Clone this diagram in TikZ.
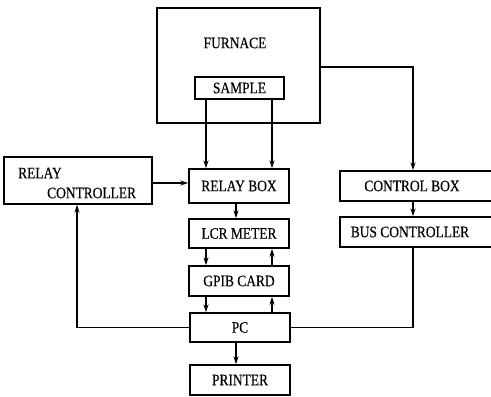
\documentclass[tikz,border=0pt]{standalone}
\usepackage{fontspec}
\newfontfamily\diagfont[FakeStretch=0.84,FakeBold=0.3]{Liberation Serif}
\usetikzlibrary{arrows.meta}
\begin{document}
\begin{tikzpicture}[x=1pt,y=-1pt,
  blk/.style={draw,line width=1.4pt,inner sep=0pt},
  lbl/.style={font=\diagfont\fontsize{16}{18}\selectfont,inner sep=0pt},
  wire/.style={line width=1.3pt},
  arr/.style={wire,-{Stealth[length=8pt,width=5pt]}}]
\useasboundingbox (0,0) rectangle (491,397);
\clip (0,0) rectangle (491,397);
% blocks
\node[blk,minimum width=163pt,minimum height=115pt] (furnace) at (238.5,65.5) {};
\node[lbl] (furnacet) at (235,43) {FURNACE};
\node[blk,minimum width=89pt,minimum height=22pt,lbl] (sample) at (239.5,88) {SAMPLE};
\node[blk,minimum width=148pt,minimum height=47pt] (relayctrl) at (78,180.5) {};
\node[lbl,anchor=west] (relayt1) at (18,173) {RELAY};
\node[lbl,anchor=west] (relayt2) at (47,193) {CONTROLLER};
\node[blk,minimum width=100pt,minimum height=34pt,lbl] (relaybox) at (239,186) {RELAY BOX};
\node[blk,minimum width=100pt,minimum height=29pt,lbl] (lcr) at (239,233.5) {LCR METER};
\node[blk,minimum width=100pt,minimum height=30pt,lbl] (gpib) at (239,281) {GPIB CARD};
\node[blk,minimum width=100pt,minimum height=29pt,lbl] (pc) at (240,327.5) {PC};
\node[blk,minimum width=100pt,minimum height=30pt,lbl] (printer) at (240,380) {PRINTER};
\node[blk,minimum width=160pt,minimum height=30pt] (controlbox) at (420,186) {};
\node[lbl] (controlt) at (412,186) {CONTROL BOX};
\node[blk,minimum width=160pt,minimum height=30pt] (busctrl) at (420,232) {};
\node[lbl] (bust) at (410,232) {BUS CONTROLLER};
% reference columns
\coordinate (xl) at (206,0);
\coordinate (xr) at (272,0);
\coordinate (xm) at (236,0);
\coordinate (xc) at (413,0);
\coordinate (xrc) at (77,0);
\coordinate (yrc) at (0,183);
\coordinate (yf) at (0,67);
% connectors
\draw[arr] (sample.south -| xl) -- (relaybox.north -| xl);
\draw[arr] (sample.south -| xr) -- (relaybox.north -| xr);
\draw[arr] (furnace.east |- yf) -| (controlbox.north -| xc);
\draw[arr] (relayctrl.east |- yrc) -- (relaybox.west |- yrc);
\draw[arr] (relaybox.south -| xm) -- (lcr.north -| xm);
\draw[arr] (lcr.south -| xl) -- (gpib.north -| xl);
\draw[arr] (gpib.north -| xr) -- (lcr.south -| xr);
\draw[arr] (gpib.south -| xl) -- (pc.north -| xl);
\draw[arr] (pc.north -| xr) -- (gpib.south -| xr);
\draw[arr] (pc.south -| xm) -- (printer.north -| xm);
\draw[arr] (pc.west) -| (relayctrl.south -| xrc);
\draw[wire] (pc.east) -| (busctrl.south -| xc);
\draw[arr] (controlbox.south -| xc) -- (busctrl.north -| xc);
\end{tikzpicture}
\end{document}
